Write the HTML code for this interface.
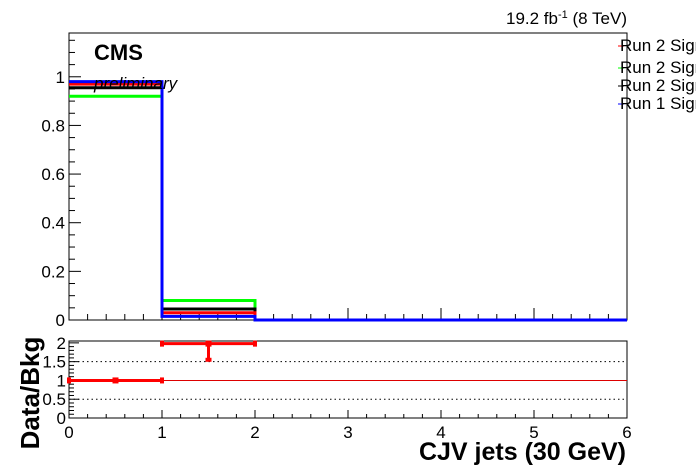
<!DOCTYPE html>
<html><head><meta charset="utf-8"><style>
html,body{margin:0;padding:0;background:#fff;}
svg{display:block;font-family:"Liberation Sans",Arial,sans-serif;}
</style></head><body>
<svg id="c" width="696" height="472" viewBox="0 0 696 472" xmlns="http://www.w3.org/2000/svg"></svg>
<script>
const binEdges=[0,1,2,3,4,5,6];
const seriesColors=["#00ff00","#000000","#ff0000","#0000ff"];
const seriesNames=["Run 2 Signal","Run 2 Signal","Run 2 Signal","Run 1 Signal"];
const greenVals=[0.92,0.08,0,0,0,0];
const blackVals=[0.955,0.045,0,0,0,0];
const redVals=[0.97,0.03,0,0,0,0];
const blueVals=[0.98,0.015,0,0,0,0];
const ratioX=[0.5,1.5];
const ratioY=[1.0,1.98];
const ratioErrLo=[0.0,0.43];
const ratioErrHi=[0.0,0.0];
const xTicks=[0,1,2,3,4,5,6];
const yTicks=[0,0.2,0.4,0.6,0.8,1];
const rTicks=[0,0.5,1,1.5,2];

const NS="http://www.w3.org/2000/svg";
const svg=document.getElementById('c');
function el(t,a,p){const e=document.createElementNS(NS,t);for(const k in a)e.setAttribute(k,a[k]);(p||svg).appendChild(e);return e;}
const X0=69,X1=627,Y0=320,YT=33,YMAX=1.18;
const RT=341,RB=418,RMAX=2.05;
const xs=v=>X0+(X1-X0)*v/6;
const ys=v=>Y0-(Y0-YT)*v/YMAX;
const rs=v=>RB-(RB-RT)*v/RMAX;

let f=el('rect',{x:X0,y:YT,width:X1-X0,height:Y0-YT,fill:'none',stroke:'#000','stroke-width':1});

for(let i=0;i<=23;i++){const v=i*0.05;if(v>YMAX)break;const y=ys(v);const big=i%4==0;
 el('line',{x1:X0,x2:X0+(big?12:6),y1:y,y2:y,stroke:'#000'});}
yTicks.forEach(v=>{let t=el('text',{x:X0-4,y:ys(v)+6,'text-anchor':'end','font-size':17});t.textContent=v;
 });
for(let i=0;i<=30;i++){const v=i*0.2;const x=xs(v);const big=i%5==0;
 el('line',{x1:x,x2:x,y1:Y0,y2:Y0-(big?12:6),stroke:'#000'});
 el('line',{x1:x,x2:x,y1:RB,y2:RB-(big?8:4),stroke:'#000'});}
const allVals=[greenVals,blackVals,redVals,blueVals];
allVals.forEach((vals,s)=>{let d='';
 vals.forEach((v,i)=>{d+=(i==0?'M':' L')+xs(binEdges[i])+','+ys(v)+' L'+xs(binEdges[i+1])+','+ys(v);});
 let p=el('path',{d:d,fill:'none',stroke:seriesColors[s],'stroke-width':3});
 });
let t=el('text',{x:94,y:60,'font-size':22,'font-weight':'bold'});t.textContent='CMS';

t=el('text',{x:94,y:89,'font-size':17,'font-style':'italic'});t.textContent='preliminary';

t=el('text',{x:627,y:24,'font-size':17,'text-anchor':'end'});t.innerHTML='19.2 fb<tspan dy="-6" font-size="11">-1</tspan><tspan dy="6"> (8 TeV)</tspan>';

const legOrder=[2,0,1,3];const legY=[45,67,85,103];const legClr=['#ff0000','#00ff00','#000000','#0000ff'];
legOrder.forEach((s,i)=>{let g=el('g',{});
 el('line',{x1:618,x2:624,y1:legY[i]+1,y2:legY[i]+1,stroke:legClr[i]},g);
 let tt=el('text',{x:620,y:legY[i]+6,'font-size':17},g);tt.textContent=seriesNames[s];});
f=el('rect',{x:X0,y:RT,width:X1-X0,height:RB-RT,fill:'none',stroke:'#000','stroke-width':1});

for(let i=0;i<=20;i++){const v=i*0.1;const y=rs(v);const big=i%5==0;
 el('line',{x1:X0,x2:X0+(big?10:5),y1:y,y2:y,stroke:'#000'});}
[0.5,1.5].forEach(v=>{el('line',{x1:X0,x2:X1,y1:rs(v),y2:rs(v),stroke:'#000','stroke-dasharray':'1.5,3'});});
let l=el('line',{x1:X0,x2:X1,y1:rs(1),y2:rs(1),stroke:'#dd0000','stroke-width':1});

rTicks.forEach(v=>{let tx=el('text',{x:X0-3,y:rs(v)+6,'text-anchor':'end','font-size':17});tx.textContent=v;
 });
xTicks.forEach(v=>{let tx=el('text',{x:xs(v),y:438,'text-anchor':'middle','font-size':17});tx.textContent=v;
 });
ratioX.forEach((xv,i)=>{let g=el('g',{});
 const y=rs(ratioY[i]);
 el('line',{x1:xs(xv-0.5),x2:xs(xv+0.5),y1:y,y2:y,stroke:'#ff0000','stroke-width':3},g);
 el('line',{x1:xs(xv),x2:xs(xv),y1:rs(ratioY[i]+ratioErrHi[i]),y2:rs(ratioY[i]-ratioErrLo[i]),stroke:'#ff0000','stroke-width':3},g);
 el('rect',{x:xs(xv)-3,y:y-3,width:6,height:6,fill:'#ff0000'},g);
 [xs(xv-0.5),xs(xv+0.5)].forEach(x=>el('rect',{x:x-2,y:y-3,width:4,height:6,fill:'#ff0000'},g));
 if(ratioErrLo[i]>0)el('rect',{x:xs(xv)-3,y:rs(ratioY[i]-ratioErrLo[i])-2,width:6,height:4,fill:'#ff0000'},g);});
t=el('text',{x:626,y:460,'text-anchor':'end','font-size':25,'font-weight':'bold'});t.textContent='CJV jets (30 GeV)';

t=el('text',{x:0,y:0,'text-anchor':'middle','font-size':26,'font-weight':'bold',transform:'translate(39,393) rotate(-90)'});t.textContent='Data/Bkg';

</script>
</body></html>
